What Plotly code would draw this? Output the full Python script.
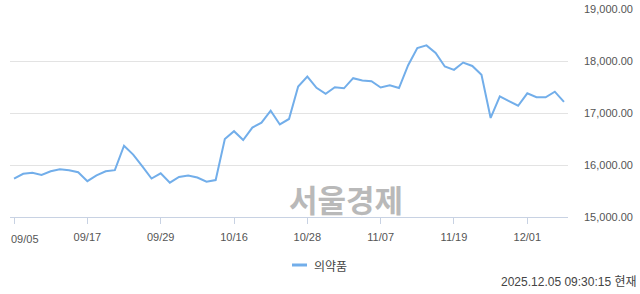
import plotly.graph_objects as go

dates = [
    "09/05", "09/08", "09/09", "09/10", "09/11", "09/12", "09/15", "09/16", "09/17",
    "09/18", "09/19", "09/22", "09/23", "09/24", "09/25", "09/26", "09/29", "09/30",
    "10/01", "10/02", "10/10", "10/13", "10/14", "10/15", "10/16", "10/17", "10/20",
    "10/21", "10/22", "10/23", "10/24", "10/27", "10/28", "10/29", "10/30", "10/31",
    "11/03", "11/04", "11/05", "11/06", "11/07", "11/10", "11/11", "11/12", "11/13",
    "11/14", "11/17", "11/18", "11/19", "11/20", "11/21", "11/24", "11/25", "11/26",
    "11/27", "11/28", "12/01", "12/02", "12/03", "12/04", "12/05",
]
values = [
    15740, 15830, 15850, 15810, 15880, 15920, 15900, 15860, 15690,
    15800, 15880, 15900, 16370, 16200, 15975, 15740, 15840, 15660,
    15770, 15800, 15760, 15680, 15710, 16500, 16650, 16480, 16720,
    16815, 17045, 16780, 16885, 17510, 17700, 17485, 17370, 17495,
    17475, 17670, 17625, 17610, 17490, 17535, 17480, 17920, 18250,
    18300, 18155, 17895, 17830, 17970, 17905, 17735, 16905, 17318,
    17228, 17140, 17378, 17303, 17303, 17410, 17213,
]
x_ticks = ["09/05", "09/17", "09/29", "10/16", "10/28", "11/07", "11/19", "12/01"]
y_ticks = [15000, 16000, 17000, 18000, 19000]
series_name = "의약품"
watermark = "서울경제"
timestamp = "2025.12.05 09:30:15 현재"

LINE = "#72aeea"
FONT = "Liberation Sans, Arial, Noto Sans CJK KR, sans-serif"
TICKCOL = "#555555"

# the first label is drawn separately, pushed inward so it stays inside the chart
tick_text = [""] + x_ticks[1:]

fig = go.Figure()
fig.add_trace(go.Scatter(
    x=dates, y=values, mode="lines", name=series_name,
    line=dict(color=LINE, width=2), showlegend=False,
))

fig.update_layout(
    width=640, height=294,
    margin=dict(l=10, r=72, t=9, b=77),
    paper_bgcolor="white", plot_bgcolor="white",
    font=dict(family=FONT, size=11, color=TICKCOL),
    xaxis=dict(
        type="category", range=[-0.44, 60.44], automargin=False,
        tickmode="array", tickvals=x_ticks, ticktext=tick_text,
        showgrid=False, zeroline=False,
        showline=True, linecolor="#c8d2e3", linewidth=1,
        ticks="outside", ticklen=6, tickcolor="#c8d2e3", tickwidth=1,
        tickfont=dict(size=11, color=TICKCOL),
        ticklabelstandoff=4,
    ),
    yaxis=dict(
        range=[15000, 19000], side="right", automargin=False,
        tickmode="array", tickvals=y_ticks, tickformat=",.2f",
        showgrid=True, gridcolor="#e3e3e3", gridwidth=1,
        zeroline=False, showline=False, ticks="",
        tickfont=dict(size=11, color=TICKCOL),
        ticklabelstandoff=15,
    ),
)

fig.add_annotation(
    x=x_ticks[0], xref="x", y=(217 - 238.5) / 208, yref="paper",
    text=x_ticks[0], showarrow=False, xanchor="left", yanchor="middle",
    xshift=-5, font=dict(family=FONT, size=11, color=TICKCOL),
)

# watermark
fig.add_annotation(
    x=(346 - 10) / 558, y=(217 - 198) / 208, xref="paper", yref="paper",
    text="<b>" + watermark + "</b>", showarrow=False,
    font=dict(family="Noto Sans CJK KR", size=31, color="#b9b9b9"),
    xanchor="center", yanchor="middle",
)
# custom legend
fig.add_shape(
    type="line", xref="paper", yref="paper",
    x0=(292 - 10) / 558, x1=(307 - 10) / 558,
    y0=(217 - 265) / 208, y1=(217 - 265) / 208,
    line=dict(color=LINE, width=3),
)
fig.add_annotation(
    x=(312 - 10) / 558, y=(217 - 265) / 208, xref="paper", yref="paper",
    text=series_name, showarrow=False, xanchor="left", yanchor="middle",
    font=dict(family="Noto Sans CJK KR", size=12, color="#444444"),
)
# timestamp
fig.add_annotation(
    x=(639 - 10) / 558, y=(217 - 282) / 208, xref="paper", yref="paper",
    text=timestamp, showarrow=False, xanchor="right", yanchor="middle",
    font=dict(family=FONT, size=12, color="#444444"),
)

fig.write_html("out.html")
